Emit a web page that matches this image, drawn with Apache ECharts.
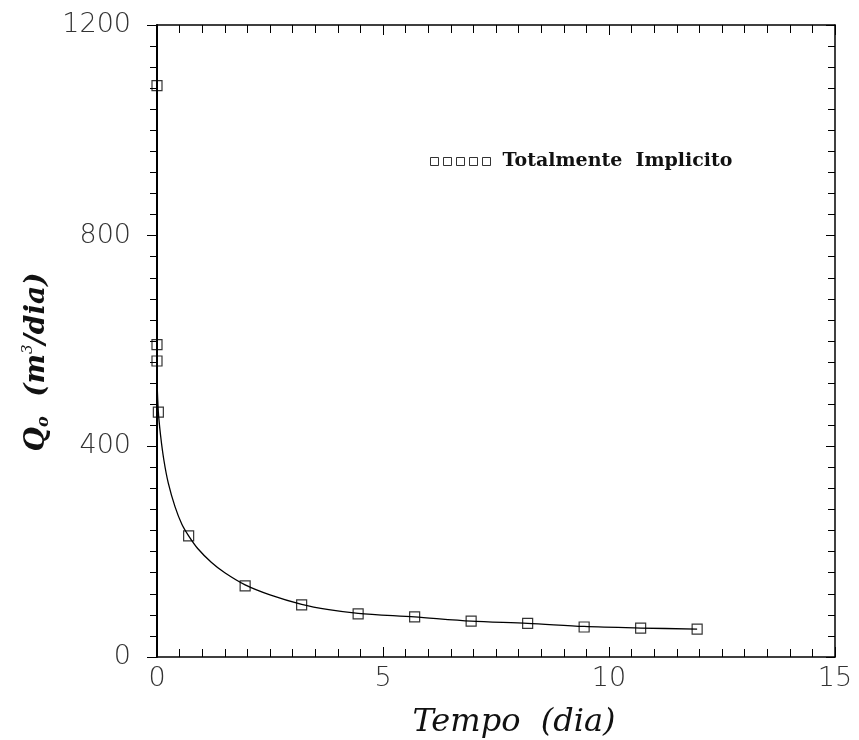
<!DOCTYPE html>
<html><head><meta charset="utf-8">
<script src="https://cdn.jsdelivr.net/npm/echarts@6/dist/echarts.min.js"></script>
<style>html,body{margin:0;padding:0;background:#fff}#c{width:859px;height:740px}</style>
</head><body><div id="c"></div>
<script>
// Simulated points (Totalmente Implicito)
const markerX = [0, 0, 0, 0.03, 0.7, 1.95, 3.2, 4.45, 5.7, 6.95, 8.2, 9.45, 10.7, 11.95];
const markerY = [1085, 593, 562, 465, 230, 135, 99, 82, 76, 68, 64, 57, 55, 53];
// Solid curve
const curveX = [0, 0.03, 0.08, 0.15, 0.25, 0.4, 0.55, 0.7, 0.9, 1.2, 1.5, 1.95, 2.5, 3.2, 3.8, 4.45, 5.7, 6.95, 8.2, 9.45, 10.7, 11.95];
const curveY = [525, 465, 420, 375, 330, 285, 252, 230, 206, 180, 160, 137, 118, 100, 90, 83, 76, 68, 64, 58, 55, 53];
const xTicks = [0, 5, 10, 15];
const yTicks = [0, 400, 800, 1200];
const legendLabel = 'Totalmente  Implicito';

const chart = echarts.init(document.getElementById('c'), null, {renderer: 'canvas'});
const tickFont = {fontFamily: 'DejaVu Sans', fontWeight: 'lighter', fontSize: 27, color: '#333'};
chart.setOption({
  animation: false,
  backgroundColor: '#fff',
  grid: {left: 157, right: 24, top: 25, bottom: 83, show: false, containLabel: false, outerBoundsMode: 'none'},
  legend: {
    left: 425, top: 147,
    data: [{name: legendLabel, icon: 'path://M0,0h8v8h-8z M13,0h8v8h-8z M26,0h8v8h-8z M39,0h8v8h-8z M52,0h8v8h-8z',
      itemStyle: {color: '#fff', borderColor: '#000', borderWidth: 1}}],
    itemWidth: 60, itemHeight: 8, itemGap: 6,
    textStyle: {fontFamily: 'DejaVu Serif', fontWeight: 'bold', fontSize: 19, color: '#111', padding: [0, 0, 0, 7]}
  },
  xAxis: [{
    type: 'value', min: 0, max: 15, interval: 5, position: 'bottom',
    name: 'Tempo  (dia)', nameLocation: 'middle', nameGap: 50,
    nameTextStyle: {fontFamily: 'DejaVu Serif', fontStyle: 'italic', fontSize: 32, color: '#111', padding: [0, 0, 0, 36]},
    axisLine: {onZero: false, lineStyle: {color: '#000', width: 1.5}},
    axisTick: {inside: true, length: 10, lineStyle: {color: '#000'}},
    minorTick: {show: true, splitNumber: 10, length: 8, lineStyle: {color: '#000'}},
    axisLabel: Object.assign({margin: 8, formatter: v => xTicks.includes(v) ? String(v) : ''}, tickFont),
    splitLine: {show: false}
  }, {
    type: 'value', min: 0, max: 15, interval: 5, position: 'top',
    axisLine: {show: true, onZero: false, lineStyle: {color: '#000', width: 1.5}},
    axisTick: {show: true, inside: true, length: 10, lineStyle: {color: '#000'}},
    minorTick: {show: true, splitNumber: 10, length: 8, lineStyle: {color: '#000'}},
    axisLabel: {show: false}, splitLine: {show: false}
  }],
  yAxis: [{
    type: 'value', min: 0, max: 1200, interval: 400, position: 'left',
    name: '{a|Q}{s|o}{a|  (m}{p|3}{a|/dia)}', nameLocation: 'middle', nameGap: 104, nameRotate: 90,
    nameTextStyle: {padding: [0, 42, 0, 0], rich: {
      a: {fontFamily: 'DejaVu Serif', fontStyle: 'italic', fontSize: 28, color: '#111', fontWeight: 'bold'},
      s: {fontFamily: 'DejaVu Serif', fontStyle: 'italic', fontSize: 16, color: '#111', fontWeight: 'bold', padding: [14, 0, 0, 0]},
      p: {fontFamily: 'DejaVu Serif', fontStyle: 'italic', fontSize: 15, color: '#111', padding: [0, 0, 16, 0]}
    }},
    axisLine: {onZero: false, lineStyle: {color: '#000', width: 2}},
    axisTick: {inside: false, length: 10, lineStyle: {color: '#000'}},
    minorTick: {show: true, splitNumber: 10, length: 7, lineStyle: {color: '#000'}},
    axisLabel: Object.assign({margin: 26, formatter: v => yTicks.includes(v) ? String(v) : ''}, tickFont),
    splitLine: {show: false}
  }, {
    type: 'value', min: 0, max: 1200, interval: 400, position: 'right',
    axisLine: {show: true, onZero: false, lineStyle: {color: '#000', width: 1.5}},
    axisTick: {show: true, inside: true, length: 9, lineStyle: {color: '#000'}},
    minorTick: {show: true, splitNumber: 10, length: 7, lineStyle: {color: '#000'}},
    axisLabel: {show: false}, splitLine: {show: false}
  }],
  series: [{
    type: 'line', name: 'curve', xAxisIndex: 0, yAxisIndex: 0,
    data: curveX.map((x, i) => [x, curveY[i]]),
    smooth: 0.3, showSymbol: false, symbol: 'none',
    lineStyle: {color: '#000', width: 1.3}, z: 2
  }, {
    type: 'scatter', name: legendLabel, xAxisIndex: 0, yAxisIndex: 0,
    data: markerX.map((x, i) => [x, markerY[i]]),
    symbol: 'rect', symbolSize: 10,
    itemStyle: {color: 'rgba(255,255,255,0)', borderColor: '#000', borderWidth: 1.2}, z: 3
  }]
});
</script></body></html>
